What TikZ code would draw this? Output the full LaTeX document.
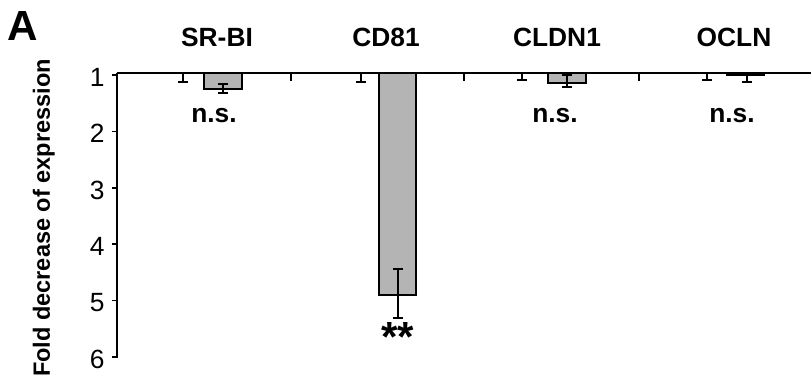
\documentclass[tikz,border=0pt]{standalone}
\usepackage{fontspec}
\setmainfont{Liberation Sans}
\definecolor{barfill}{RGB}{180,180,180}
\tikzset{
  axisline/.style={line width=1.1pt},
  barbox/.style={draw=black,line width=0.9pt,fill=barfill},
  errline/.style={line width=0.9pt},
  gene/.style={font=\fontsize{15}{17}\selectfont\bfseries,anchor=base},
  tickval/.style={font=\fontsize{15}{17}\selectfont,anchor=east,inner sep=0pt},
  signif/.style={font=\fontsize{15}{17}\selectfont\bfseries,anchor=base}
}
\begin{document}
\begin{tikzpicture}[x=0.02cm,y=-0.02cm]
\useasboundingbox (0,0) rectangle (811,381);
\node[font=\fontsize{24}{26}\selectfont\bfseries,anchor=base west,inner sep=0pt] (lblA) at (7,41) {A};
\node[gene] (tSRBI) at (217,47) {SR-BI};
\node[gene] (tCDeightyone) at (386,47) {CD81};
\node[gene] (tCLDN) at (557,47) {CLDN1};
\node[gene] (tOCLN) at (734,47) {OCLN};
\node[font=\fontsize{13.4}{15}\selectfont\bfseries,rotate=90,anchor=base,inner sep=0pt] (ylab) at (50,218) {Fold decrease of expression};
% bars
\draw [barbox] (204,73) rectangle (242,89);
\draw [barbox] (379,73) rectangle (416,295);
\draw [barbox] (548,73) rectangle (586,83);
\draw [barbox] (727,73) rectangle (764,75);
% error bars, controls
\draw [errline] (183,73) -- (183,82) (178,82) -- (188,82);
\draw [errline] (361,73) -- (361,82) (356,82) -- (366,82);
\draw [errline] (522,73) -- (522,80) (517,80) -- (527,80);
\draw [errline] (707,73) -- (707,80) (702,80) -- (712,80);
% error bars, treated
\draw [errline] (223,84) -- (223,93) (218,84) -- (228,84) (218,93) -- (228,93);
\draw [errline] (398,269) -- (398,318) (393,269) -- (403,269) (393,318) -- (403,318);
\draw [errline] (567,75) -- (567,87) (562,75) -- (572,75) (562,87) -- (572,87);
\draw [errline] (747,75) -- (747,82) (742,82) -- (752,82);
% axes
\draw [axisline] (117,73) -- (811,73);
\draw [axisline] (117,73) -- (117,358);
\draw [axisline] (291,73) -- (291,81);
\draw [axisline] (464,73) -- (464,81);
\draw [axisline] (639,73) -- (639,81);
\draw [axisline] (112,75) -- (117,75);
\draw [axisline] (112,131.5) -- (117,131.5);
\draw [axisline] (112,188) -- (117,188);
\draw [axisline] (112,244) -- (117,244);
\draw [axisline] (112,300.5) -- (117,300.5);
\draw [axisline] (112,357) -- (117,357);
\node[tickval] (yone) at (105,77) {1};
\node[tickval] (ytwo) at (105,133.5) {2};
\node[tickval] (ythree) at (105,190) {3};
\node[tickval] (yfour) at (105,246) {4};
\node[tickval] (yfive) at (105,302.5) {5};
\node[tickval] (ysix) at (105,359) {6};
% significance
\node[signif] (nsSRBI) at (214,123) {n.s.};
\node[signif] (nsCLDN) at (555,123) {n.s.};
\node[signif] (nsOCLN) at (732,123) {n.s.};
\node[font=\fontsize{24}{26}\selectfont\bfseries,inner sep=0pt] (starsCD) at (398,337) {**};
\end{tikzpicture}
\end{document}
